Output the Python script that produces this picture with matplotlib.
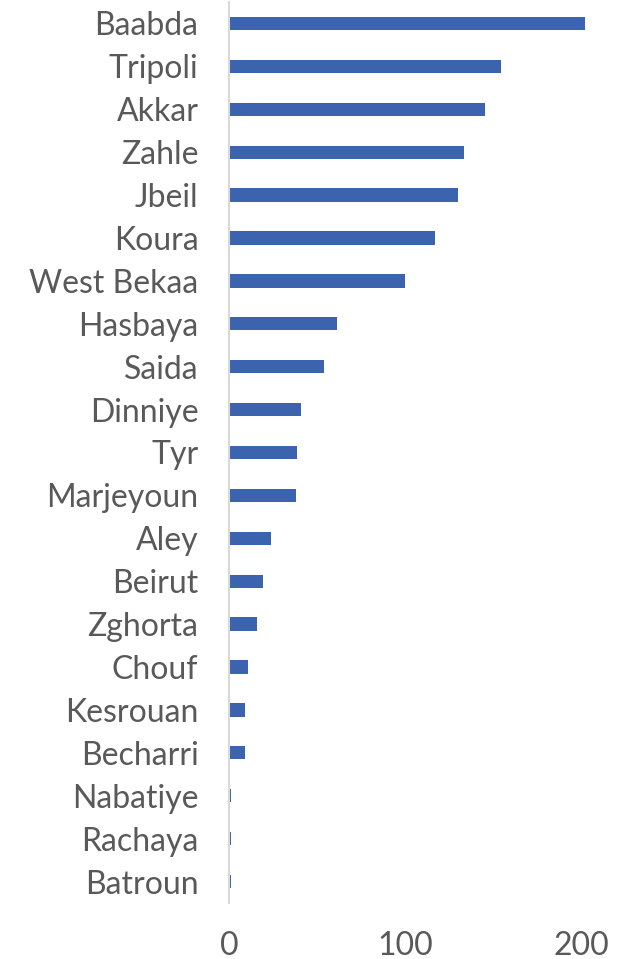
import matplotlib
matplotlib.use("Agg")
import matplotlib.pyplot as plt

# Distritos y valores (de arriba hacia abajo en la figura)
distritos = ["Baabda", "Tripoli", "Akkar", "Zahle", "Jbeil", "Koura", "West Bekaa",
             "Hasbaya", "Saida", "Dinniye", "Tyr", "Marjeyoun", "Aley", "Beirut",
             "Zghorta", "Chouf", "Kesrouan", "Becharri", "Nabatiye", "Rachaya", "Batroun"]
valores = [202, 154, 145, 133, 130, 117, 100,
           61, 54, 41, 38.5, 38, 24, 19,
           16, 11, 9, 9, 1, 1, 1]
ticks_x = [0, 100, 200]

plt.rcParams['font.family'] = ['Lato', 'DejaVu Sans']

fig = plt.figure(figsize=(6.36, 9.59), dpi=100)
ax = fig.add_axes([229/636, 1 - 903/959, 388/636, 901/959])

pos = list(range(len(distritos)))
ax.barh(pos, valores, height=0.31, color="#3C64AE")
ax.set_ylim(len(distritos) - 0.5, -0.5)
ax.set_xlim(0, 220)
ax.set_yticks(pos)
ax.set_yticklabels(distritos)
ax.set_xticks(ticks_x)

for s in ["top", "right", "bottom"]:
    ax.spines[s].set_visible(False)
ax.spines["left"].set_color("#D9D9D9")
ax.spines["left"].set_linewidth(1.5)
ax.tick_params(axis="y", length=0, pad=22, labelsize=23, labelcolor="#595959")
ax.tick_params(axis="x", length=0, pad=20, labelsize=23, labelcolor="#595959")

fig.savefig("out.png", dpi=100)
